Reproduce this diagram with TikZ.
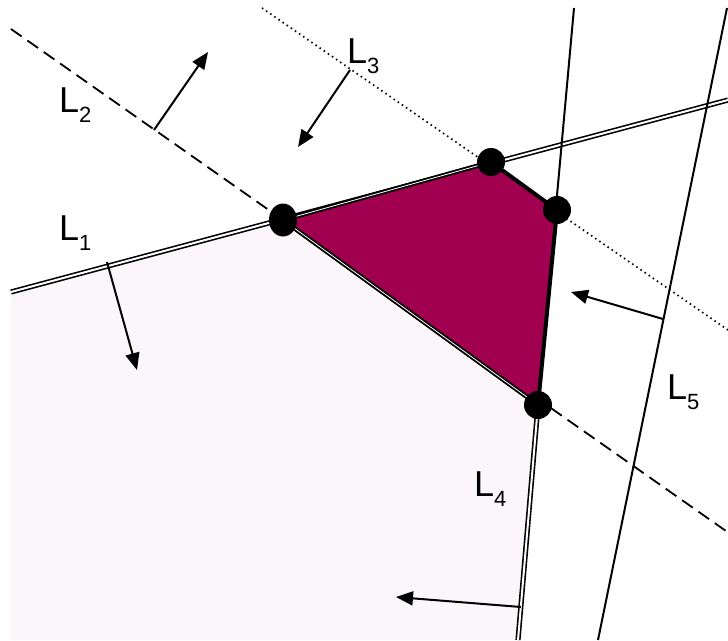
\documentclass[tikz,border=0pt]{standalone}
\usepackage{fontspec}
\setmainfont{Liberation Sans}
\usetikzlibrary{arrows.meta,shapes.geometric}
\definecolor{Plum}{HTML}{A0004F}
\definecolor{Blush}{HTML}{FBF6FA}
\newcommand{\lname}[1]{L\raisebox{-10pt}{\fontsize{22}{22}\selectfont #1}}
\begin{document}
\begin{tikzpicture}[x=1pt,y=-1pt,
 plain/.style={line width=2pt},
 twin/.style={line width=1.6pt,double=white,double distance=2pt},
 rim/.style={line width=1.8pt,double=white,double distance=0.8pt},
 dashline/.style={line width=1.8pt,dash pattern=on 13pt off 7pt},
 dotline/.style={line width=1.7pt,dash pattern=on 1.5pt off 3.5pt},
 normal/.style={-{Triangle[length=17pt,width=14pt]},line width=2pt},
 vertex/.style={circle,fill=black,minimum size=28pt,inner sep=0pt},
 lname/.style={anchor=base west,font=\fontsize{36}{36}\selectfont,inner sep=0pt}]
 \useasboundingbox[fill=white](0,0)rectangle(728,640);
 % lines and corners
 \coordinate(l1a)at(11,292);\coordinate(l1b)at(728,100);
 \coordinate(l2a)at(11,29);\coordinate(l2b)at(726,531);
 \coordinate(l3a)at(262,8);\coordinate(l3b)at(728,330);
 \coordinate(l4a)at(574,8);\coordinate(l4b)at(518,640);
 \coordinate(l5a)at(727,8);\coordinate(l5b)at(598,640);
 \coordinate(corner)at(11,640);
 \coordinate(A)at(283,220);\coordinate(B)at(491,162);\coordinate(D)at(557,210);\coordinate(C)at(538,405);
 % half plane
 \fill[Blush](l1a)--(A)--(C)--(l4b)--(corner)--cycle;
 \draw[twin](l1a)--(l1b);
 \draw[dashline](l2a)--(l2b);
 \draw[dotline](l3a)--(l3b);
 \draw[plain](l4a)--(C);\draw[twin](C)--(l4b);
 \draw[plain](l5a)--(l5b);
 % feasible region
 \filldraw[fill=Plum,line width=4pt,line join=round](A)--(B)--(D)--(C)--cycle;
 \draw[rim](A)--(B);\draw[rim](A)--(C);
 \node[vertex,ellipse,minimum width=28pt,minimum height=33pt](va) at(A){};
 \node[vertex](vb) at(B){};
 \node[vertex](vd) at(D){};
 \node[vertex](vc) at(C){};
 % normals
 \coordinate(f1)at(107,262);\coordinate(t1)at(137,370);
 \coordinate(f2)at(154,130);\coordinate(t2)at(208,52);
 \coordinate(f3)at(350,70);\coordinate(t3)at(298,147);
 \coordinate(f4)at(521,607);\coordinate(t4)at(396,597);
 \coordinate(f5)at(663,319);\coordinate(t5)at(571,292);
 \draw[normal](f1)--(t1);\draw[normal](f2)--(t2);\draw[normal](f3)--(t3);\draw[normal](f4)--(t4);\draw[normal](f5)--(t5);
 % labels
 \node[lname](n1)at(59,240){\lname{1}};
 \node[lname](n2)at(59,112){\lname{2}};
 \node[lname](n3)at(347,63){\lname{3}};
 \node[lname](n4)at(474,496){\lname{4}};
 \node[lname](n5)at(667,399){\lname{5}};
\end{tikzpicture}
\end{document}
